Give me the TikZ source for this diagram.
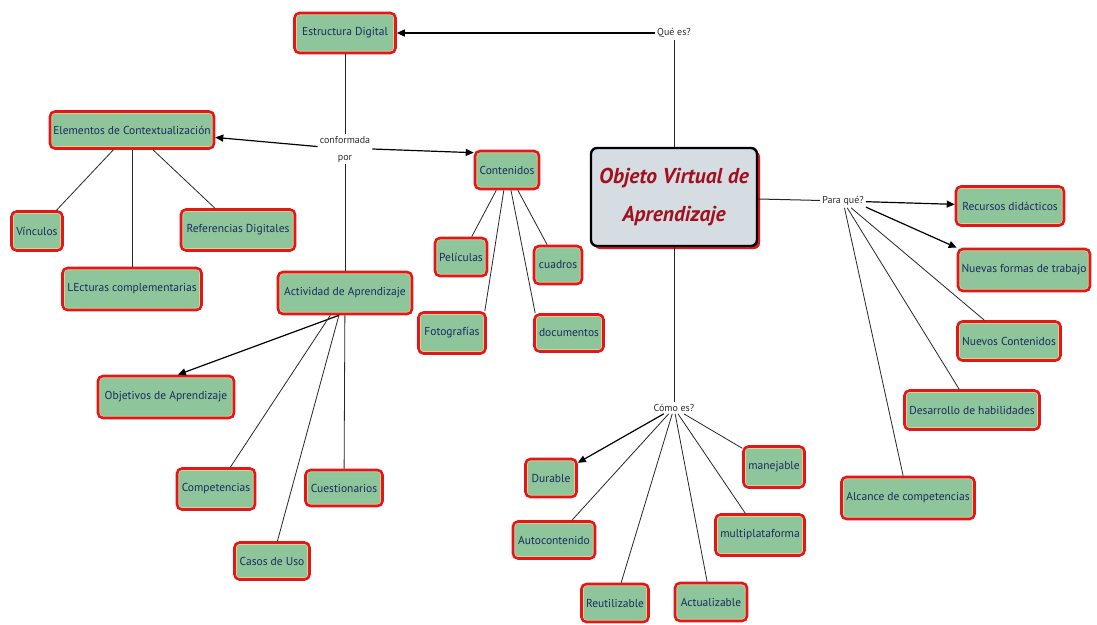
\documentclass[tikz,border=0pt]{standalone}
\usepackage{fontspec}
\setmainfont{PT Sans}
\usetikzlibrary{arrows.meta,shadows}
\definecolor{boxred}{HTML}{E3161C}
\definecolor{boxgreen}{HTML}{8FC59B}
\definecolor{boxtext}{HTML}{1B2A5E}
\definecolor{boxyellow}{HTML}{F2E28A}
\definecolor{objfill}{HTML}{D5DCE2}
\definecolor{objtext}{HTML}{A0101E}
\definecolor{labtext}{HTML}{2A2A2A}
\begin{document}
\begin{tikzpicture}[x=1pt,y=-1pt,
  box/.style={rounded corners=5pt, draw=boxred, line width=2.6pt, fill=boxgreen,
    text=boxtext, font=\fontsize{11.5}{13}\selectfont, inner sep=2pt,
    path picture={\draw[boxyellow, line width=0.7pt, rounded corners=3pt]
      ([shift={(1.7pt,1.7pt)}]path picture bounding box.south west) rectangle
      ([shift={(-1.7pt,-1.7pt)}]path picture bounding box.north east);}},
  lab/.style={font=\fontsize{10}{12}\selectfont, text=labtext, inner sep=2pt, align=center},
  ln/.style={draw=black!85, line width=0.8pt},
  arr/.style={draw=black, line width=1.2pt, -{Triangle[length=8pt,width=7pt]}}
]
\useasboundingbox (0,0) rectangle (1097,624);

% central node
\node[draw=black, line width=2.4pt, rounded corners=6pt, fill=objfill,
  minimum width=166pt, minimum height=98pt, align=center, text=objtext,
  font=\fontsize{21.5}{38}\selectfont\bfseries\itshape,
  general shadow={shadow xshift=3pt, shadow yshift=-3pt, fill=boxred}]
  (obj) at (674,197) {Objeto Virtual de\\Aprendizaje};

% labels
\node[lab] (que) at (674,33) {Qué es?};
\node[lab] (para) at (843,201) {Para qué?};
\node[lab] (como) at (674,408) {Cómo es?};
\node[lab, font=\fontsize{10}{17}\selectfont] (conf) at (345,149) {conformada\\por};

% boxes
\node[box, minimum width=101pt, minimum height=40pt] (ed) at (345,33) {Estructura Digital};
\node[box, minimum width=164pt, minimum height=37pt] (elem) at (132,130) {Elementos de Contextualización};
\node[box, minimum width=51pt, minimum height=39pt] (vin) at (37,231) {Vínculos};
\node[box, minimum width=114pt, minimum height=41pt] (ref) at (238,230) {Referencias Digitales};
\node[box, minimum width=139pt, minimum height=42pt] (lec) at (132,289) {LEcturas complementarias};
\node[box, minimum width=134pt, minimum height=42pt] (actv) at (345,293) {Actividad de Aprendizaje};
\node[box, minimum width=136pt, minimum height=42pt] (obja) at (166,397) {Objetivos de Aprendizaje};
\node[box, minimum width=78pt, minimum height=41pt] (comp) at (216,489) {Competencias};
\node[box, minimum width=77pt, minimum height=36pt] (cues) at (344,488) {Cuestionarios};
\node[box, minimum width=75pt, minimum height=37pt] (casos) at (272,561) {Casos de Uso};
\node[box, minimum width=64pt, minimum height=38pt] (cont) at (507,170) {Contenidos};
\node[box, minimum width=52pt, minimum height=38pt] (pel) at (461,257) {Películas};
\node[box, minimum width=48pt, minimum height=38pt] (cua) at (558,265) {cuadros};
\node[box, minimum width=67pt, minimum height=41pt] (foto) at (452,333) {Fotografías};
\node[box, minimum width=69pt, minimum height=37pt] (doc) at (569,333) {documentos};
\node[box, minimum width=108pt, minimum height=39pt] (rec) at (1010,206) {Recursos didácticos};
\node[box, minimum width=132pt, minimum height=42pt] (nf) at (1024,270) {Nuevas formas de trabajo};
\node[box, minimum width=103pt, minimum height=39pt] (nc) at (1009,341) {Nuevos Contenidos};
\node[box, minimum width=135pt, minimum height=39pt] (dh) at (972,410) {Desarrollo de habilidades};
\node[box, minimum width=133pt, minimum height=42pt] (ac) at (908,498) {Alcance de competencias};
\node[box, minimum width=51pt, minimum height=38pt] (dur) at (551,478) {Durable};
\node[box, minimum width=82pt, minimum height=37pt] (auto) at (554,540) {Autocontenido};
\node[box, minimum width=67pt, minimum height=38pt] (reu) at (615,603) {Reutilizable};
\node[box, minimum width=72pt, minimum height=38pt] (actz) at (711,602) {Actualizable};
\node[box, minimum width=89pt, minimum height=41pt] (mult) at (760,535) {multiplataforma};
\node[box, minimum width=61pt, minimum height=41pt] (man) at (774,467) {manejable};

% connectors
\draw[ln] (obj) -- (que);
\draw[arr, line width=1.5pt] (que) -- (ed);
\draw[ln] (ed) -- (conf);
\draw[arr] (conf) -- (elem);
\draw[arr] (conf.east) -- ([yshift=-3pt]cont.north west);
\draw[ln] (conf) -- (actv);
\draw[ln] (elem) -- (vin);
\draw[ln] (elem) -- (lec);
\draw[ln] (elem) -- (ref);
\draw[ln] (cont) -- (pel);
\draw[ln] (cont) -- ([xshift=-2pt]foto.north east);
\draw[ln] (cont) -- ([xshift=2pt]doc.north west);
\draw[ln] (cont) -- (cua);
\draw[arr] (actv.-105) -- (obja.62);
\draw[ln] (actv) -- (comp);
\draw[ln] (actv) -- (casos);
\draw[ln] (actv) -- (cues);
\draw[ln, line width=1pt] (obj) -- (para);
\draw[arr] (para) -- (rec);
\draw[arr] (para.-15) -- (nf.north west);
\draw[ln] (para) -- (nc);
\draw[ln] (para) -- (dh);
\draw[ln] (para) -- (ac);
\draw[ln, line width=1pt] (obj) -- (como);
\draw[arr] (como) -- (dur);
\draw[ln] (como) -- (auto);
\draw[ln] (como) -- (reu);
\draw[ln] (como) -- (actz);
\draw[ln] (como) -- (mult);
\draw[ln] (como) -- (man);
\end{tikzpicture}
\end{document}
